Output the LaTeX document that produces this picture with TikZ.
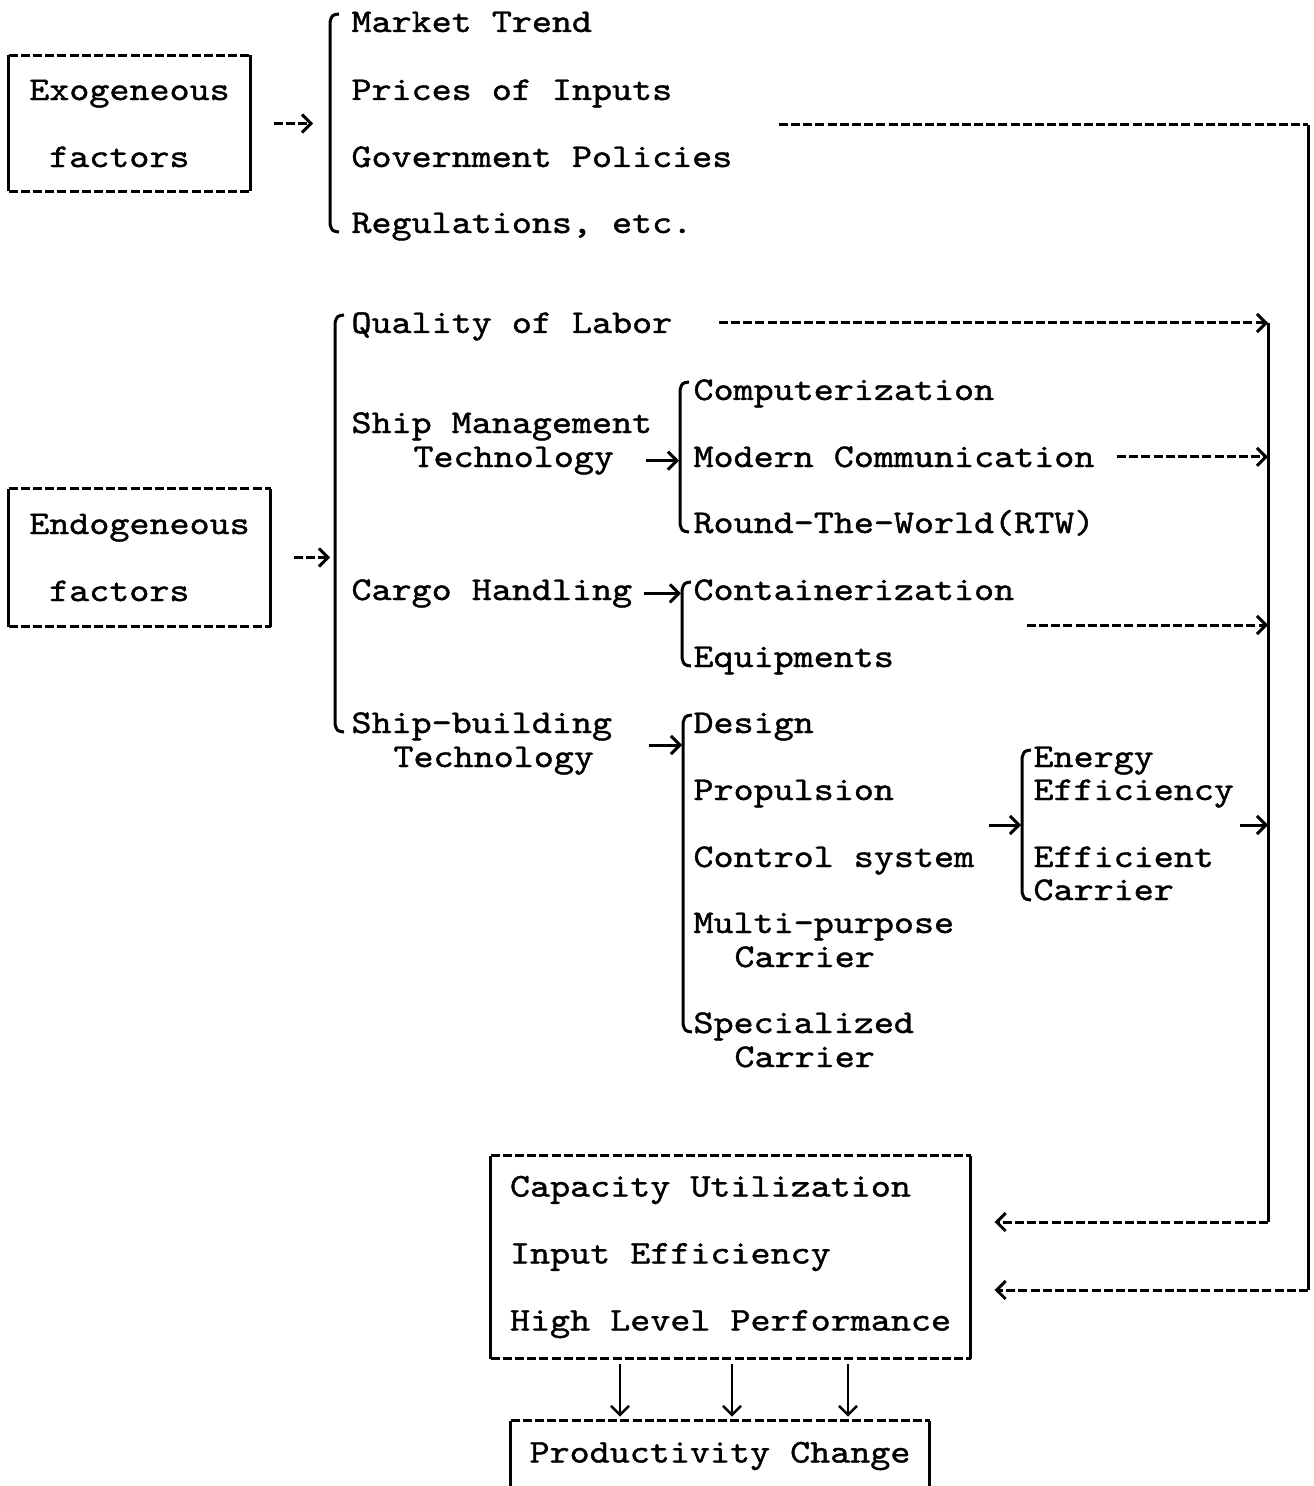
\documentclass[tikz,border=0pt]{standalone}
\usepackage{fontspec}
\newfontfamily\typefont[FakeStretch=1.15,FakeBold=1.2]{lmmono10-regular.otf}
\usetikzlibrary{arrows.meta}

\tikzset{
  txt/.style={anchor=base west, inner sep=0pt},
  boxtxt/.style={inner sep=0pt, align=left},
  dashline/.style={dash pattern=on 4.5pt off 1.6pt},
  tip/.style={-{Straight Barb[length=4.5pt,width=9pt]}},
}

% box: dashed top and bottom, solid sides
\newcommand{\typebox}[1]{%
  \draw[dashline] (#1.north west) -- (#1.north east);
  \draw[dashline] (#1.south west) -- (#1.south east);
  \draw (#1.north west) -- (#1.south west);
  \draw (#1.north east) -- (#1.south east);
}
% bracket: x, top y, bottom y
\newcommand{\listbrace}[3]{%
  \draw (#1+9,#2) .. controls (#1+2,#2+1) .. (#1,#2+8) -- (#1,#3-8)
    .. controls (#1+2,#3-1) .. (#1+9,#3);
}

\begin{document}
\begin{tikzpicture}[x=0.5pt, y=-0.5pt, line width=1.5pt,
  font=\typefont\fontsize{16.6}{33.5}\selectfont]
\useasboundingbox (0,0) rectangle (1313,1486);
\clip (0,0) rectangle (1313,1486);

% boxes
\node[boxtxt, minimum width=119.5pt, minimum height=66.5pt] (exo) at (129.5,123.5) {Exogeneous\\\hspace*{0.6em}factors};
\node[boxtxt, minimum width=129.5pt, minimum height=67.5pt] (endo) at (139.5,557.5) {Endogeneous\\\hspace*{0.6em}factors};
\node[boxtxt, minimum width=238.5pt, minimum height=100pt] (cap) at (730.5,1257) {Capacity Utilization\\Input Efficiency\\High Level Performance};
\node[boxtxt, minimum width=208pt, minimum height=34pt] (prod) at (720,1456) {Productivity Change};
\typebox{exo}
\typebox{endo}
\typebox{cap}
\typebox{prod}

% exogeneous list
\node[txt] (mkt) at (350,32) {Market Trend};
\node[txt] (price) at (350,100) {Prices of Inputs};
\node[txt] (govt) at (350,167) {Government Policies};
\node[txt] (regul) at (350,233) {Regulations, etc.};

% endogeneous list
\node[txt] (qual) at (350,333) {Quality of Labor};
\node[txt] (shipm) at (350,433) {Ship Management};
\node[txt] (smtech) at (412,467) {Technology};
\node[txt] (cargo) at (350,600) {Cargo Handling};
\node[txt] (shipb) at (350,733) {Ship-building};
\node[txt] (sbtech) at (392,767) {Technology};

\node[txt] (comp) at (692,400) {Computerization};
\node[txt] (modcom) at (692,467) {Modern Communication};
\node[txt] (rtw) at (692,533) {Round-The-World(RTW)};
\node[txt] (contain) at (692,600) {Containerization};
\node[txt] (equip) at (692,667) {Equipments};
\node[txt] (design) at (692,733) {Design};
\node[txt] (propul) at (692,800) {Propulsion};
\node[txt] (ctrl) at (692,867) {Control system};
\node[txt] (multi) at (692,933) {Multi-purpose};
\node[txt] (multic) at (733,967) {Carrier};
\node[txt] (spec) at (692,1033) {Specialized};
\node[txt] (specc) at (733,1067) {Carrier};

\node[txt] (energy) at (1032,767) {Energy};
\node[txt] (effy) at (1032,800) {Efficiency};
\node[txt] (effc) at (1032,867) {Efficient};
\node[txt] (effcc) at (1032,900) {Carrier};

% brackets
\listbrace{330}{14}{232}
\listbrace{335}{315}{732}
\listbrace{680}{382}{532}
\listbrace{682}{582}{666}
\listbrace{683}{715}{1032}
\listbrace{1022}{750}{900}

\coordinate (b1in) at (313,0);
\coordinate (b2in) at (330,0);
\coordinate (b3in) at (679,0);
\coordinate (b4in) at (681,0);
\coordinate (b5in) at (682,745);
\coordinate (b6in) at (1021,825);
\coordinate (c1) at (1268,323);
\coordinate (c3) at (1268,625);
\coordinate (c4) at (1268,825);
\coordinate (c5) at (1268,1222);
\coordinate (o1) at (1308,125);
\coordinate (o2) at (1308,1290);

% small arrows
\draw[dashline, tip, shorten <=11.5pt] (exo.east) -- (exo.east -| b1in);
\draw[dashline, tip, shorten <=11.5pt] (endo.east) -- (endo.east -| b2in);
\draw[tip, shorten <=15.5pt] (smtech.east) -- (smtech.east -| b3in);
\draw[tip, shorten <=5pt] (cargo.east) -- (cargo.east -| b4in);
\draw[tip, shorten <=17.5pt] (shipb.east |- b5in) -- (b5in);
\draw[tip, shorten <=6.5pt] (ctrl.east |- b6in) -- (b6in);
\draw[tip, shorten <=2.5pt] (effy.east |- c4) -- (c4);

% dashed arrows to the collector
\draw[dashline, tip, shorten <=22.5pt] (qual.east |- c1) -- (c1);
\draw[dashline, tip, shorten <=10.5pt] (modcom.east) -- (modcom.east -| c1);
\draw[dashline, tip, shorten <=5.5pt] (contain.east |- c3) -- (c3);
\draw (c1) -- (c5);
\draw[dashline, tip, shorten >=12pt] (c5) -- (c5 -| cap.east);

% outer line
\draw[dashline, shorten <=22.5pt] (govt.east |- o1) -- (o1);
\draw (o1) -- (o2);
\draw[dashline, tip, shorten >=12pt] (o2) -- (o2 -| cap.east);

% down arrows
\foreach \x [count=\i] in {620,732,848} {
  \coordinate (d\i) at (\x,0);
  \draw[tip, line width=1.2pt, shorten <=2.5pt, shorten >=2pt] (cap.south -| d\i) -- (prod.north -| d\i);
}
\end{tikzpicture}
\end{document}
